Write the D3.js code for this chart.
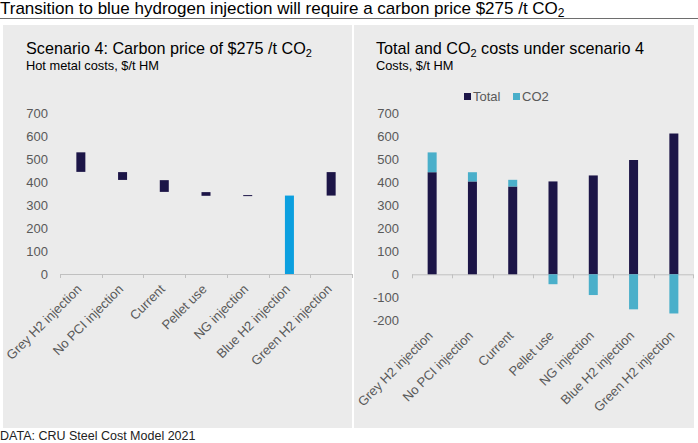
<!DOCTYPE html>
<html><head><meta charset="utf-8">
<script src="https://cdn.jsdelivr.net/npm/d3@7"></script>
<style>
body{margin:0;background:#fff;}
svg text{font-family:"Liberation Sans",Arial,sans-serif;}
</style></head>
<body><svg id="c" width="698" height="443"></svg>
<script>
const categories = ["Grey H2 injection","No PCI injection","Current","Pellet use","NG injection","Blue H2 injection","Green H2 injection"];
// Left waterfall: floating bar low/high values
const waterLow  = [444, 409, 357, 340, 340, 0, 341];
const waterHigh = [529, 443, 408, 356, 343, 341, 443];
// Right: totals and CO2 costs
const totalValues = [443, 403, 381, 403, 429, 496, 611];
const co2Values   = [86, 40, 29, -43, -90, -152, -170];
const leftTicks  = [0,100,200,300,400,500,600,700];
const rightTicks = [-200,-100,0,100,200,300,400,500,600,700];

const svg = d3.select("#c");
const NAVY="#1c1547", TEAL="#4aafca", BLUE="#0b9fdf", BG="#ebebeb", TXT="#595959", AX="#c0c0c0";

// Title
const t = svg.append("text").attr("x",0).attr("y",14).attr("font-size",17).attr("fill","#000");
t.append("tspan").text("Transition to blue hydrogen injection will require a carbon price $275 /t CO");
t.append("tspan").attr("font-size",12).attr("dy",2.5).text("2");
svg.append("line").attr("x1",0).attr("x2",698).attr("y1",18.5).attr("y2",18.5).attr("stroke","#6e6e6e").attr("stroke-width",1);

// panels
svg.append("rect").attr("x",3).attr("y",25).attr("width",349).attr("height",403).attr("fill",BG);
svg.append("rect").attr("x",354).attr("y",25).attr("width",340).attr("height",403).attr("fill",BG);

// source
svg.append("text").attr("x",0).attr("y",440).attr("font-size",12.5).attr("fill","#222").text("DATA: CRU Steel Cost Model 2021");

function panelTitle(x, main, sub2, rest, subtitle){
  const tt = svg.append("text").attr("x",x).attr("y",54).attr("font-size",16.2).attr("fill","#000");
  tt.append("tspan").text(main);
  if(sub2){
    tt.append("tspan").attr("font-size",11).attr("dy",3).text(sub2);
    tt.append("tspan").attr("dy",-3).text(rest);
  }
  svg.append("text").attr("x",x).attr("y",70).attr("font-size",12.8).attr("fill","#000").text(subtitle);
}
panelTitle(26,"Scenario 4: Carbon price of $275 /t CO","2","","Hot metal costs, $/t HM");
panelTitle(376,"Total and CO","2"," costs under scenario 4","Costs, $/t HM");

function axes(g, x, y, ticks, labelX, x0, x1){
  const bottom = y(d3.min(ticks));
  g.selectAll(".yl").data(ticks).join("text")
    .attr("x",labelX).attr("y",d=>y(d)+4.5).attr("text-anchor","end")
    .attr("font-size",13).attr("fill",TXT).text(d=>d);
  g.append("line").attr("x1",x0).attr("x2",x1).attr("y1",y(0)+0.5).attr("y2",y(0)+0.5).attr("stroke",AX);
  const edges = categories.map(c=>x(c)).concat([x1]);
  g.selectAll(".tk").data(edges).join("line")
    .attr("x1",d=>Math.round(d)+0.5).attr("x2",d=>Math.round(d)+0.5)
    .attr("y1",y(0)).attr("y2",y(0)+4).attr("stroke",AX);
  g.selectAll(".xl").data(categories).join("text")
    .attr("text-anchor","end").attr("font-size",13).attr("fill",TXT)
    .attr("transform",d=>`translate(${x(d)+x.bandwidth()/2+1.5},${bottom+16}) rotate(-45)`)
    .text(d=>d);
}

// Left chart
const gl = svg.append("g");
const xl = d3.scaleBand().domain(categories).range([60,352]);
const yl = d3.scaleLinear().domain([0,700]).range([274,113]);
axes(gl, xl, yl, leftTicks, 48, 60, 352);
gl.selectAll(".b").data(categories).join("rect")
  .attr("x",d=>xl(d)+xl.bandwidth()/2-4.5).attr("width",9)
  .attr("y",(d,i)=>yl(waterHigh[i]))
  .attr("height",(d,i)=>Math.max(1,yl(waterLow[i])-yl(waterHigh[i])))
  .attr("fill",(d,i)=>i===5?BLUE:NAVY);

// Right chart
const gr = svg.append("g");
const xr = d3.scaleBand().domain(categories).range([412,694]);
const yr = d3.scaleLinear().domain([0,700]).range([274.3,113]);
axes(gr, xr, yr, rightTicks, 399, 412, 693);
gr.selectAll(".tot").data(categories).join("rect")
  .attr("x",d=>xr(d)+xr.bandwidth()/2-4.5).attr("width",9)
  .attr("y",(d,i)=>yr(totalValues[i])).attr("height",(d,i)=>yr(0)-yr(totalValues[i]))
  .attr("fill",NAVY);
gr.selectAll(".co2").data(categories).join("rect")
  .attr("x",d=>xr(d)+xr.bandwidth()/2-4.5).attr("width",9)
  .attr("y",(d,i)=>co2Values[i]>=0?yr(totalValues[i]+co2Values[i]):yr(0))
  .attr("height",(d,i)=>Math.abs(yr(0)-yr(co2Values[i])))
  .attr("fill",TEAL);

// Legend
const leg = [{n:"Total",c:NAVY,x:464},{n:"CO2",c:TEAL,x:513}];
const lg = svg.append("g").selectAll("g").data(leg).join("g").attr("transform",d=>`translate(${d.x},93)`);
lg.append("rect").attr("width",7).attr("height",7).attr("fill",d=>d.c);
lg.append("text").attr("x",9).attr("y",8).attr("font-size",13).attr("fill",TXT).text(d=>d.n);
</script></body></html>
